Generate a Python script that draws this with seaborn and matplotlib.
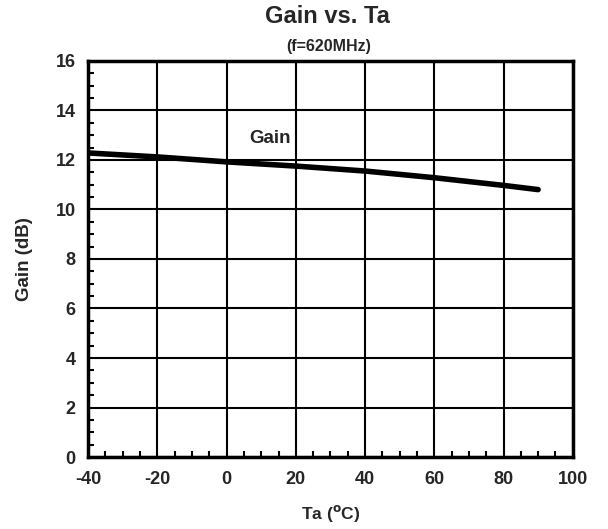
import numpy as np
import pandas as pd
import seaborn as sns
import matplotlib.pyplot as plt
from matplotlib.ticker import MultipleLocator

# Data
ta = [-40, -20, 0, 20, 40, 60, 80, 90]
gain = [12.28, 12.12, 11.92, 11.75, 11.55, 11.28, 10.97, 10.8]

xticks = [-40, -20, 0, 20, 40, 60, 80, 100]
yticks = [0, 2, 4, 6, 8, 10, 12, 14, 16]

sns.set_style("ticks")
plt.rcParams["font.family"] = ["Liberation Sans", "DejaVu Sans"]
plt.rcParams["font.weight"] = "bold"
plt.rcParams["mathtext.default"] = "bf"

df = pd.DataFrame({"Ta": ta, "Gain": gain})

fig = plt.figure(figsize=(6.08, 5.29), dpi=100)
ax = fig.add_axes([0.145, 0.136, 0.797, 0.749])

sns.lineplot(data=df, x="Ta", y="Gain", ax=ax, color="black", linewidth=4, zorder=3)

ax.set_xlim(-40, 100)
ax.set_ylim(0, 16)
ax.set_xticks(xticks)
ax.set_yticks(yticks)
ax.set_xticklabels([str(t) for t in xticks], fontsize=13, fontweight="bold")
ax.set_yticklabels([str(t) for t in yticks], fontsize=13, fontweight="bold")
ax.xaxis.set_minor_locator(MultipleLocator(5))
ax.yaxis.set_minor_locator(MultipleLocator(0.5))
ax.tick_params(axis="x", which="major", length=0, pad=10)
ax.tick_params(axis="y", which="major", length=0, pad=9)
ax.tick_params(which="minor", direction="in", length=4, width=1.5, color="black")
ax.grid(True, which="major", color="black", linewidth=1.5)

for s in ax.spines.values():
    s.set_visible(True)
    s.set_linewidth(2.5)
    s.set_color("black")

ax.set_xlabel("Ta ($^{\\mathrm{o}}$C)", fontsize=12.5, fontweight="bold", labelpad=11)
ax.set_ylabel("Gain (dB)", fontsize=13.5, fontweight="bold", labelpad=16)

ax.text(12.5, 12.88, "Gain", fontsize=13.5, fontweight="bold", ha="center", va="center")

fig.text(0.539, 0.968, "Gain vs. Ta", fontsize=17, fontweight="bold", ha="center", va="center")
fig.text(0.54, 0.913, "(f=620MHz)", fontsize=11.5, fontweight="bold", ha="center", va="center")

fig.savefig("out.png", dpi=100)
